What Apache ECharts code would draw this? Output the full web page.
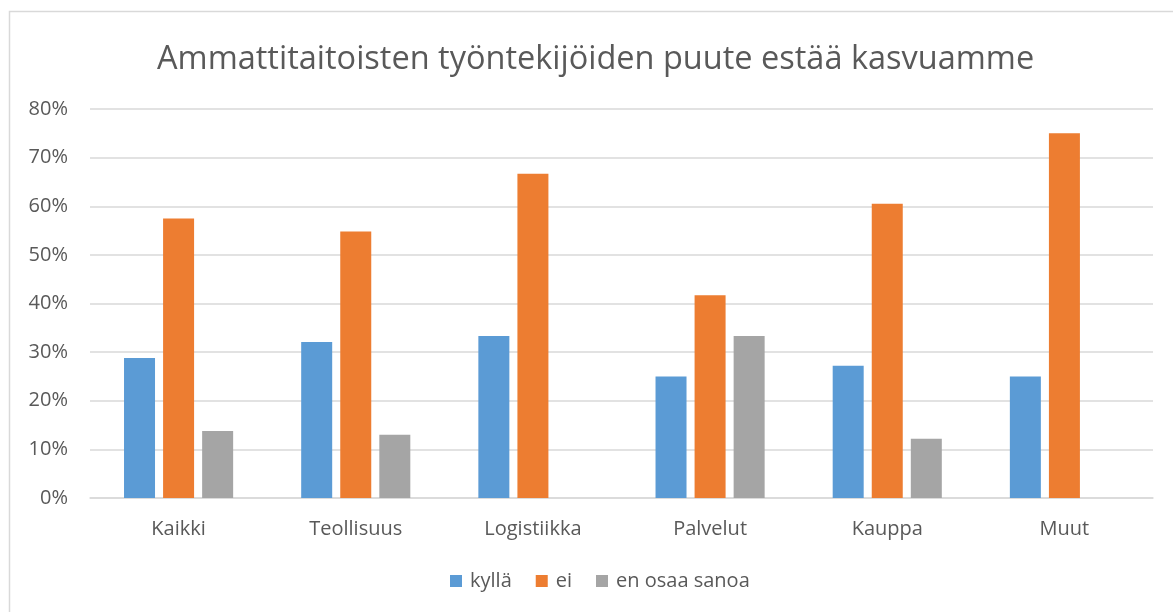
<!DOCTYPE html>
<html>
<head>
    <meta charset="utf-8">
    <title>ECharts</title>
    <script type="text/javascript" src="https://cdn.jsdelivr.net/npm/echarts@6/dist/echarts.min.js"></script>
    <style>
        html, body { margin: 0; padding: 0; background: #fff; }
    </style>
</head>
<body>
<div id="main" style="width: 1173px;height:612px;"></div>
<script type="text/javascript">
    // 数据
    var categories = ['Kaikki', 'Teollisuus', 'Logistiikka', 'Palvelut', 'Kauppa', 'Muut'];
    var kylla = [28.8, 32.1, 33.3, 25.0, 27.2, 25.0];
    var ei = [57.5, 54.8, 66.7, 41.7, 60.5, 75.0];
    var eos = [13.8, 13.0, 0, 33.3, 12.2, 0];
    var yTicks = [0, 10, 20, 30, 40, 50, 60, 70, 80];

    var font = '"Open Sans", "Noto Sans", sans-serif';
    var myChart = echarts.init(document.getElementById('main'));

    myChart.setOption({
        animation: false,
        textStyle: { fontFamily: font },
        graphic: [{
            type: 'rect',
            shape: { x: 9.5, y: 11.5, width: 1200, height: 700 },
            style: { fill: 'none', stroke: '#d9d9d9', lineWidth: 1.5 },
            silent: true
        }],
        title: {
            text: 'Ammattitaitoisten työntekijöiden puute estää kasvuamme',
            left: 152,
            top: 38,
            textStyle: { fontSize: 32.5, fontWeight: 'normal', color: '#595959', fontFamily: font }
        },
        legend: {
            bottom: 16,
            left: 445,
            itemWidth: 12,
            itemHeight: 12,
            itemGap: 24,
            icon: 'rect',
            textStyle: { fontSize: 20, color: '#595959', fontFamily: font, padding: [0, 0, 0, 3] },
            data: ['kyllä', 'ei', 'en osaa sanoa']
        },
        grid: { left: 90, right: 20, top: 109, bottom: 114 },
        xAxis: {
            type: 'category',
            data: categories,
            axisTick: { show: false },
            axisLine: { lineStyle: { color: '#d9d9d9', width: 1.5 } },
            axisLabel: { fontSize: 20, color: '#595959', margin: 21 }
        },
        yAxis: {
            type: 'value',
            min: yTicks[0],
            max: yTicks[yTicks.length - 1],
            interval: 10,
            axisLine: { show: false },
            axisTick: { show: false },
            splitLine: { lineStyle: { color: '#d9d9d9', width: 1.5 } },
            axisLabel: {
                fontSize: 20, color: '#595959', margin: 22,
                formatter: function (v) { return v + '%'; }
            }
        },
        series: [{
            name: 'kyllä',
            type: 'bar',
            data: kylla,
            barWidth: 31,
            barGap: '26%',
            itemStyle: { color: '#5B9BD5' }
        }, {
            name: 'ei',
            type: 'bar',
            data: ei,
            barWidth: 31,
            barGap: '26%',
            itemStyle: { color: '#ED7D31' }
        }, {
            name: 'en osaa sanoa',
            type: 'bar',
            data: eos,
            barWidth: 31,
            barGap: '26%',
            itemStyle: { color: '#A5A5A5' }
        }]
    });
</script>
</body>
</html>
